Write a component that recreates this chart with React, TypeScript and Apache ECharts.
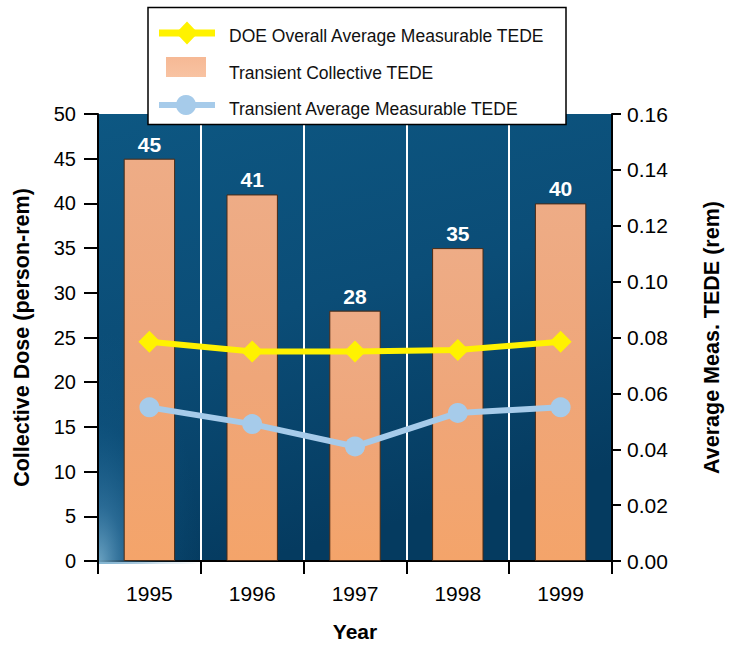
import React, { useEffect, useRef } from "react";
import * as echarts from "echarts";

const years = ["1995", "1996", "1997", "1998", "1999"];
const collectiveDose = [45, 41, 28, 35, 40];
const doeOverallAvg = [0.0785, 0.075, 0.075, 0.0755, 0.0785];
const transientAvg = [0.055, 0.049, 0.041, 0.053, 0.055];

const FONT = "Liberation Sans, Arial, Helvetica, sans-serif";
const YELLOW = "#fff200";
const LIGHTBLUE = "#a6cbea";

export default function App() {
  const ref = useRef<HTMLDivElement>(null);
  useEffect(() => {
    const chart = echarts.init(ref.current!, null, { renderer: "svg" });
    const hidden = { itemStyle: { opacity: 0 }, lineStyle: { opacity: 0 }, icon: "rect" };
    chart.setOption({
      animation: false,
      textStyle: { fontFamily: FONT },
      grid: {
        left: 98,
        right: 126,
        top: 114,
        bottom: 82,
        show: true,
        borderWidth: 0,
        backgroundColor: {
          type: "linear",
          x: 0,
          y: 0,
          x2: 0.3,
          y2: 1,
          colorStops: [
            { offset: 0, color: "#0d5782" },
            { offset: 0.5, color: "#0b4d77" },
            { offset: 1, color: "#053b60" },
          ],
        },
      },
      graphic: [
        {
          type: "rect",
          z: 1,
          silent: true,
          shape: { x: 99, y: 330, width: 101, height: 234 },
          style: {
            fill: {
              type: "radial",
              x: 0,
              y: 1,
              r: 1,
              colorStops: [
                { offset: 0, color: "rgba(120,175,205,0.9)" },
                { offset: 0.25, color: "rgba(70,140,185,0.55)" },
                { offset: 0.6, color: "rgba(30,110,160,0.2)" },
                { offset: 1, color: "rgba(20,95,140,0)" },
              ],
            },
          },
        },
        {
          type: "rect",
          z: 10,
          shape: { x: 148, y: 7.5, width: 418, height: 117 },
          style: { fill: "#ffffff", stroke: "#000000", lineWidth: 1.5 },
        },
        {
          type: "group",
          z: 21,
          silent: true,
          children: [
            { type: "line", z: 21, shape: { x1: 159, y1: 33, x2: 215, y2: 33 }, style: { stroke: YELLOW, lineWidth: 7 } },
            {
              type: "polygon",
              z: 22,
              shape: { points: [[187, 21.5], [198, 33], [187, 44.5], [176, 33]] },
              style: { fill: YELLOW },
            },
            {
              type: "rect",
              z: 21,
              shape: { x: 166, y: 57, width: 40, height: 20 },
              style: {
                fill: {
                  type: "linear",
                  x: 0,
                  y: 0,
                  x2: 0,
                  y2: 1,
                  colorStops: [
                    { offset: 0, color: "#f6b995" },
                    { offset: 1, color: "#f8c3a2" },
                  ],
                },
              },
            },
            { type: "line", z: 21, shape: { x1: 159, y1: 105, x2: 215, y2: 105 }, style: { stroke: LIGHTBLUE, lineWidth: 6 } },
            { type: "circle", z: 22, shape: { cx: 186, cy: 105, r: 10 }, style: { fill: LIGHTBLUE } },
          ],
        },
      ],
      legend: {
        z: 20,
        orient: "vertical",
        left: 160,
        top: 21,
        itemWidth: 54,
        itemHeight: 20,
        itemGap: 15.5,
        textStyle: {
          fontFamily: FONT,
          fontSize: 17.5,
          color: "#111",
          padding: [0, 0, 0, 4],
        },
        data: [
          { name: "DOE Overall Average Measurable TEDE", ...hidden },
          { name: "Transient Collective TEDE", ...hidden },
          { name: "Transient Average Measurable TEDE", ...hidden },
        ],
      },
      xAxis: {
        type: "category",
        data: years,
        boundaryGap: true,
        name: "Year",
        nameLocation: "middle",
        nameGap: 60,
        nameTextStyle: { fontFamily: FONT, fontSize: 21, fontWeight: "bold", color: "#000" },
        axisLine: { show: true, lineStyle: { color: "#000", width: 2 } },
        axisTick: { show: true, length: 13, alignWithLabel: false, lineStyle: { color: "#000", width: 2 } },
        axisLabel: { fontFamily: FONT, fontSize: 21, color: "#000", margin: 22 },
        splitLine: { show: true, lineStyle: { color: "#ffffff", width: 2 } },
      },
      yAxis: [
        {
          type: "value",
          min: 0,
          max: 50,
          interval: 5,
          position: "left",
          name: "Collective Dose (person-rem)",
          nameLocation: "middle",
          nameGap: 65,
          nameTextStyle: { fontFamily: FONT, fontSize: 21.5, fontWeight: "bold", color: "#000" },
          axisLine: { show: true, lineStyle: { color: "#000", width: 2 } },
          axisTick: { show: true, length: 14, lineStyle: { color: "#000", width: 2 } },
          axisLabel: { fontFamily: FONT, fontSize: 20, color: "#000", margin: 22 },
          splitLine: { show: false },
        },
        {
          type: "value",
          min: 0,
          max: 0.16,
          interval: 0.02,
          position: "right",
          name: "Average Meas. TEDE (rem)",
          nameLocation: "middle",
          nameGap: 89,
          nameTextStyle: { fontFamily: FONT, fontSize: 21.5, fontWeight: "bold", color: "#000" },
          axisLine: { show: true, lineStyle: { color: "#000", width: 2 } },
          axisTick: { show: true, length: 9, lineStyle: { color: "#000", width: 2 } },
          axisLabel: {
            fontFamily: FONT,
            fontSize: 21,
            color: "#000",
            margin: 15,
            formatter: (v: number) => v.toFixed(2),
          },
          splitLine: { show: false },
        },
      ],
      series: [
        {
          name: "Transient Collective TEDE",
          type: "bar",
          yAxisIndex: 0,
          data: collectiveDose,
          barWidth: "50%",
          itemStyle: {
            color: {
              type: "linear",
              x: 0,
              y: 0,
              x2: 0,
              y2: 1,
              colorStops: [
                { offset: 0, color: "#eeac86" },
                { offset: 0.5, color: "#efa679" },
                { offset: 1, color: "#f4a46a" },
              ],
            },
            borderColor: "#4a2a14",
            borderWidth: 1,
          },
          label: {
            show: true,
            position: "top",
            distance: 4,
            color: "#ffffff",
            fontFamily: FONT,
            fontSize: 21,
            fontWeight: "bold",
          },
        },
        {
          name: "DOE Overall Average Measurable TEDE",
          type: "line",
          yAxisIndex: 1,
          data: doeOverallAvg,
          symbol: "diamond",
          symbolSize: 22,
          z: 5,
          lineStyle: { color: YELLOW, width: 6 },
          itemStyle: { color: YELLOW },
        },
        {
          name: "Transient Average Measurable TEDE",
          type: "line",
          yAxisIndex: 1,
          data: transientAvg,
          symbol: "circle",
          symbolSize: 20,
          z: 5,
          lineStyle: { color: LIGHTBLUE, width: 6 },
          itemStyle: { color: LIGHTBLUE },
        },
      ],
    });
    return () => chart.dispose();
  }, []);
  return (
    <div
      ref={ref}
      style={{ position: "absolute", left: 0, top: 0, width: 738, height: 647 }}
    />
  );
}
